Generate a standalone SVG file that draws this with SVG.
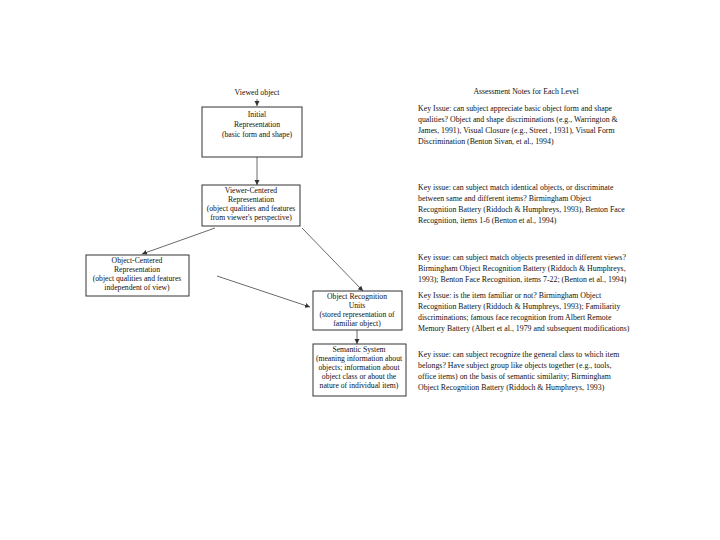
<svg xmlns="http://www.w3.org/2000/svg" width="720" height="540" viewBox="0 0 720 540">
<defs>
<marker id="ah" markerWidth="6" markerHeight="6" refX="5" refY="3" orient="auto" markerUnits="userSpaceOnUse">
<path d="M0,0.5 L5,3 L0,5.5 z" fill="#333"/>
</marker>
<style>
.box{fill:#fff;stroke:#333;stroke-width:1}
.nt{font-family:"Liberation Serif","Times New Roman",serif;font-size:7.7px;fill:#111;text-anchor:middle}
.rt{font-family:"Liberation Serif","Times New Roman",serif;font-size:7.85px;fill:#111}
.hd{font-family:"Liberation Serif","Times New Roman",serif;font-size:7.8px;fill:#111}
.cn{stroke:#444;stroke-width:0.8;fill:none}
</style>
</defs>
<rect width="720" height="540" fill="#fff"/>

<text class="hd" x="257" y="95" text-anchor="middle">Viewed object</text>
<text class="hd" x="526" y="94" text-anchor="middle">Assessment Notes for Each Level</text>

<g id="connectors">
<line class="cn" x1="257" y1="99" x2="257" y2="106" marker-end="url(#ah)"/>
<line class="cn" x1="257" y1="157" x2="257" y2="185" marker-end="url(#ah)"/>
<line class="cn" x1="215" y1="228" x2="142" y2="254" marker-end="url(#ah)"/>
<line class="cn" x1="302" y1="228" x2="363" y2="291" marker-end="url(#ah)"/>
<line class="cn" x1="217" y1="276" x2="310" y2="307" marker-end="url(#ah)"/>
<line class="cn" x1="357" y1="330" x2="357" y2="344" marker-end="url(#ah)"/>
</g>

<g id="initial">
<rect class="box" x="202" y="107" width="100" height="50"/>
<text class="nt" x="257" y="117">Initial</text>
<text class="nt" x="257" y="127">Representation</text>
<text class="nt" x="257" y="137">(basic form and shape)</text>
</g>

<g id="viewer">
<rect class="box" x="202" y="185" width="98" height="41"/>
<text class="nt" x="251" y="193">Viewer-Centered</text>
<text class="nt" x="251" y="202">Representation</text>
<text class="nt" x="251" y="211">(object qualities and features</text>
<text class="nt" x="251" y="220">from viewer's perspective)</text>
</g>

<g id="objectcentered">
<rect class="box" x="86" y="255" width="103" height="41"/>
<text class="nt" x="137" y="263">Object-Centered</text>
<text class="nt" x="137" y="272">Representation</text>
<text class="nt" x="137" y="281">(object qualities and features</text>
<text class="nt" x="137" y="290">independent of view)</text>
</g>

<g id="recognition">
<rect class="box" x="313" y="291" width="89" height="39"/>
<text class="nt" x="357" y="299">Object Recognition</text>
<text class="nt" x="357" y="308">Units</text>
<text class="nt" x="357" y="317">(stored representation of</text>
<text class="nt" x="357" y="326">familiar object)</text>
</g>

<g id="semantic">
<rect class="box" x="313" y="344" width="93" height="52"/>
<text class="nt" x="359" y="352">Semantic System</text>
<text class="nt" x="359" y="361">(meaning information about</text>
<text class="nt" x="359" y="370">objects; information about</text>
<text class="nt" x="359" y="379">object class or about the</text>
<text class="nt" x="359" y="388">nature of individual item)</text>
</g>

<g id="notes" xml:space="preserve">
<text class="rt" x="418" y="111">Key Issue:  can subject appreciate basic object form and shape</text>
<text class="rt" x="418" y="122">qualities?  Object and shape discriminations (e.g., Warrington &amp;</text>
<text class="rt" x="418" y="133">James, 1991), Visual Closure (e.g., Street , 1931), Visual Form</text>
<text class="rt" x="418" y="144">Discrimination (Benton Sivan, et al., 1994)</text>

<text class="rt" x="418" y="190">Key issue:  can subject match identical objects, or discriminate</text>
<text class="rt" x="418" y="201">between same and different items?  Birmingham Object</text>
<text class="rt" x="418" y="212">Recognition Battery (Riddoch &amp; Humphreys, 1993),  Benton Face</text>
<text class="rt" x="418" y="223">Recognition, items 1-6 (Benton et al., 1994)</text>

<text class="rt" x="418" y="260">Key issue:  can subject match objects presented in different views?</text>
<text class="rt" x="418" y="271">Birmingham Object Recognition Battery (Riddoch &amp; Humphreys,</text>
<text class="rt" x="418" y="282">1993); Benton Face Recognition, items 7-22; (Benton et al., 1994)</text>

<text class="rt" x="418" y="298">Key Issue:  is the item familiar or not?  Birmingham Object</text>
<text class="rt" x="418" y="309">Recognition Battery (Riddoch &amp; Humphreys, 1993);  Familiarity</text>
<text class="rt" x="418" y="320">discriminations; famous face recognition  from Albert Remote</text>
<text class="rt" x="418" y="331">Memory Battery (Albert et al., 1979 and subsequent modifications)</text>

<text class="rt" x="418" y="357">Key issue:  can subject recognize the general class to which item</text>
<text class="rt" x="418" y="368">belongs?  Have subject group like objects together (e.g., tools,</text>
<text class="rt" x="418" y="379">office items) on the basis of semantic similarity; Birmingham</text>
<text class="rt" x="418" y="390">Object Recognition Battery (Riddoch &amp; Humphreys, 1993)</text>
</g>
</svg>
